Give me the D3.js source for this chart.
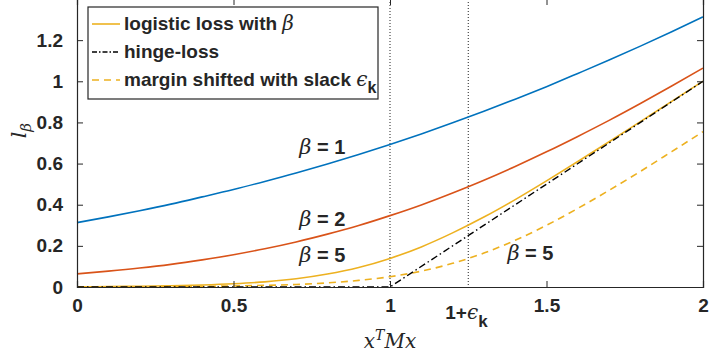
<!DOCTYPE html>
<html>
<head>
<meta charset="utf-8">
<script src="https://cdn.jsdelivr.net/npm/d3@7"></script>
<style>
  body { margin: 0; background: #fff; }
  svg text { font-family: "Liberation Sans", Arial, sans-serif; font-weight: bold; fill: #262626; }
  .math { font-family: "DejaVu Serif", "Liberation Serif", serif; font-style: italic; font-weight: normal; }
</style>
</head>
<body>
<div id="chart"></div>
<script>
// x samples (x^T M x)
const xs = [0, 0.1, 0.2, 0.3, 0.4, 0.5, 0.6, 0.7, 0.8, 0.9, 1.0,
  1.1, 1.2, 1.3, 1.4, 1.5, 1.6, 1.7, 1.8, 1.9, 2.0];

// logistic loss, beta = 1
const beta1 = [0.313, 0.341, 0.371, 0.403, 0.438, 0.474, 0.513, 0.554, 0.598, 0.644, 0.693,
  0.744, 0.798, 0.854, 0.913, 0.974, 1.038, 1.103, 1.171, 1.241, 1.313];

// logistic loss, beta = 2
const beta2 = [0.064, 0.077, 0.092, 0.110, 0.132, 0.157, 0.186, 0.219, 0.257, 0.299, 0.347,
  0.399, 0.457, 0.519, 0.586, 0.657, 0.732, 0.810, 0.892, 0.977, 1.064];

// logistic loss, beta = 5
const beta5 = [0.001, 0.002, 0.004, 0.006, 0.010, 0.016, 0.025, 0.040, 0.063, 0.095, 0.139,
  0.195, 0.263, 0.340, 0.425, 0.516, 0.610, 0.706, 0.804, 0.902, 1.001];

// margin shifted with slack, beta = 5
const shifted = [0.000, 0.001, 0.001, 0.002, 0.003, 0.005, 0.008, 0.012, 0.020, 0.032, 0.050,
  0.077, 0.115, 0.165, 0.227, 0.300, 0.382, 0.470, 0.562, 0.658, 0.755];

// hinge loss
const hingeX = [0, 1, 2];
const hingeY = [0, 0, 1];

const epsK = 0.25;
const xTicks = [0, 0.5, 1, 1 + epsK, 1.5, 2];
const yTicks = [0, 0.2, 0.4, 0.6, 0.8, 1, 1.2];

const colors = { b1: '#0072BD', b2: '#D95319', b5: '#EDB120' };

const width = 709, height = 360;
const margin = { left: 77, right: 6, top: -1, bottom: 73 };

const svg = d3.select('#chart').append('svg')
  .attr('width', width)
  .attr('height', height);

const x = d3.scaleLinear().domain([0, 2]).range([margin.left, width - margin.right]);
const y = d3.scaleLinear().domain([0, 1.4]).range([height - margin.bottom, margin.top]);

// vertical dotted guides at 1 and 1+eps
[1, 1 + epsK].forEach(function (v) {
  svg.append('line')
    .attr('x1', x(v)).attr('x2', x(v))
    .attr('y1', y(1.4)).attr('y2', y(0))
    .attr('stroke', '#222')
    .attr('stroke-width', 1)
    .attr('stroke-dasharray', '1,2');
});

const line = d3.line()
  .x(function (d) { return x(d[0]); })
  .y(function (d) { return y(d[1]); })
  .curve(d3.curveMonotoneX);

function drawSeries(ys, color, dash) {
  svg.append('path')
    .datum(xs.map(function (v, i) { return [v, ys[i]]; }))
    .attr('fill', 'none')
    .attr('stroke', color)
    .attr('stroke-width', 1.6)
    .attr('stroke-dasharray', dash || null)
    .attr('d', line);
}

drawSeries(beta1, colors.b1);
drawSeries(beta2, colors.b2);
drawSeries(beta5, colors.b5);
drawSeries(shifted, colors.b5, '7,5');

// hinge-loss
svg.append('path')
  .datum(hingeX.map(function (v, i) { return [v, hingeY[i]]; }))
  .attr('fill', 'none')
  .attr('stroke', '#000')
  .attr('stroke-width', 1.4)
  .attr('stroke-dasharray', '7,3,1.5,3')
  .attr('d', d3.line().x(function (d) { return x(d[0]); }).y(function (d) { return y(d[1]); }));

// axes (box style, ticks inward)
const axisColor = '#262626';
const xAxis = d3.axisBottom(x).tickValues(xTicks).tickSize(-6).tickPadding(12)
  .tickFormat(function (d) { return d === 1 + epsK ? '' : d3.format('')(d); });
const gx = svg.append('g')
  .attr('transform', 'translate(0,' + y(0) + ')')
  .call(xAxis);
gx.selectAll('text').attr('font-size', 19).attr('dy', '0.71em');

// label for 1+eps_k tick
const epsLabel = svg.append('text')
  .attr('x', x(1 + epsK) - 23)
  .attr('y', y(0) + 32)
  .attr('font-size', 19);
epsLabel.append('tspan').text('1+');
epsLabel.append('tspan').attr('class', 'math').attr('font-size', 20).text('\u03F5');
epsLabel.append('tspan').attr('dy', 8).attr('font-size', 17).text('k');

const yAxis = d3.axisLeft(y).tickValues(yTicks).tickSize(-6).tickPadding(14)
  .tickFormat(d3.format(''));
const gy = svg.append('g')
  .attr('transform', 'translate(' + x(0) + ',0)')
  .call(yAxis);
gy.selectAll('text').attr('font-size', 19);

const gTop = svg.append('g')
  .attr('transform', 'translate(0,' + y(1.4) + ')')
  .call(d3.axisTop(x).tickValues(xTicks).tickSize(-6).tickFormat(''));
const gRight = svg.append('g')
  .attr('transform', 'translate(' + x(2) + ',0)')
  .call(d3.axisRight(y).tickValues(yTicks).tickSize(-6).tickFormat(''));

[gx, gy, gTop, gRight].forEach(function (g) {
  g.select('.domain').attr('stroke', axisColor).attr('stroke-width', 1.2);
  g.selectAll('.tick line').attr('stroke', axisColor);
  g.selectAll('text').attr('fill', axisColor);
});
[gTop, gRight].forEach(function (g) { g.selectAll('.tick line').filter(function (d) { return d === 1 + epsK; }).remove(); });
gx.selectAll('.tick line').filter(function (d) { return d === 1 + epsK; }).remove();

// axis labels
const xLabel = svg.append('text')
  .attr('class', 'math')
  .attr('x', x(1))
  .attr('y', 348)
  .attr('text-anchor', 'middle')
  .attr('font-size', 20);
xLabel.append('tspan').text('x');
xLabel.append('tspan').attr('dy', -8).attr('font-size', 14).text('T');
xLabel.append('tspan').attr('dy', 8).text('Mx');

const yLabel = svg.append('text')
  .attr('class', 'math')
  .attr('transform', 'translate(26,' + y(0.76) + ') rotate(-90)')
  .attr('text-anchor', 'middle')
  .attr('font-size', 21);
yLabel.append('tspan').text('l');
yLabel.append('tspan').attr('dy', 5).attr('font-size', 15).text('\u03B2');

// beta annotations
function betaNote(px, py, val) {
  const t = svg.append('text').attr('x', x(px)).attr('y', y(py)).attr('font-size', 20);
  t.append('tspan').attr('class', 'math').attr('font-size', 21).text('\u03B2');
  t.append('tspan').text(' = ' + val);
}
betaNote(0.71, 0.645, '1');
betaNote(0.71, 0.295, '2');
betaNote(0.71, 0.12, '5');
betaNote(1.375, 0.13, '5');

// legend
const legend = svg.append('g').attr('transform', 'translate(88,7)');
legend.append('rect')
  .attr('width', 290).attr('height', 92)
  .attr('fill', '#fff').attr('stroke', axisColor).attr('stroke-width', 1.2);

const legendItems = [
  { color: colors.b5, dash: null, text: 'logistic loss with ', sym: '\u03B2' },
  { color: '#000', dash: '5,2,1.5,2', text: 'hinge-loss', sym: null },
  { color: colors.b5, dash: '7,5', text: 'margin shifted with slack ', sym: '\u03F5' }
];
legendItems.forEach(function (d, i) {
  const ry = 17 + i * 28;
  legend.append('line')
    .attr('x1', 4).attr('x2', 32)
    .attr('y1', ry).attr('y2', ry)
    .attr('stroke', d.color).attr('stroke-width', 1.6)
    .attr('stroke-dasharray', d.dash);
  const t = legend.append('text').attr('x', 36).attr('y', ry + 6).attr('font-size', 19);
  t.append('tspan').text(d.text);
  if (d.sym) {
    t.append('tspan').attr('class', 'math').attr('font-size', 20).text(d.sym);
    if (i === 2) t.append('tspan').attr('dy', 7).attr('font-size', 16).text('k');
  }
});
</script>
</body>
</html>
